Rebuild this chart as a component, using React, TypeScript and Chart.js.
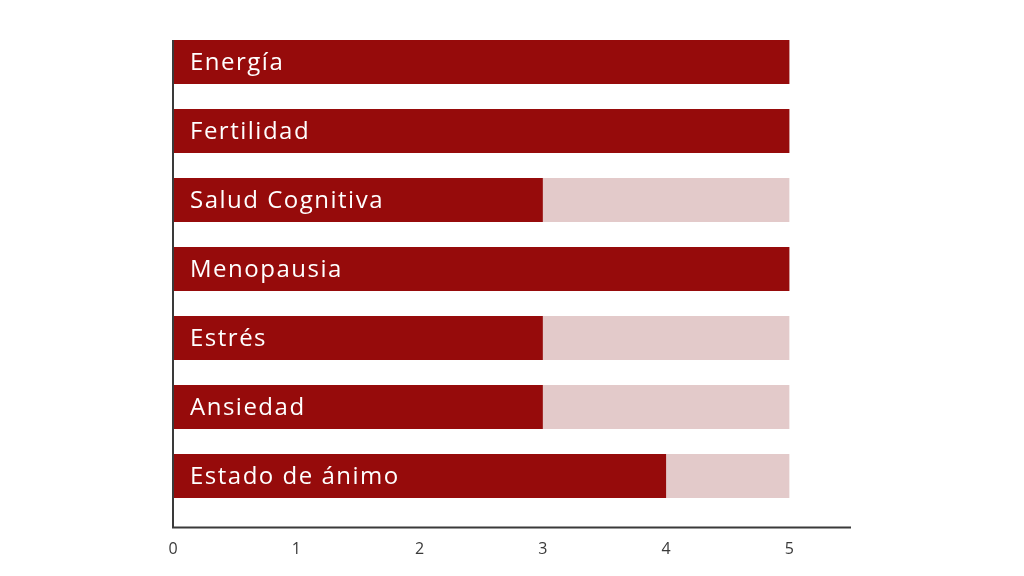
import { Chart, registerables } from 'chart.js'
import type { Plugin } from 'chart.js'
import { useEffect, useRef } from 'react'

Chart.register(...registerables)

const categories = [
  'Energía',
  'Fertilidad',
  'Salud Cognitiva',
  'Menopausia',
  'Estrés',
  'Ansiedad',
  'Estado de ánimo',
]
const scores = [5, 5, 3, 5, 3, 3, 4]
const maxScores = [5, 5, 5, 5, 5, 5, 5]
const tickValues = [0, 1, 2, 3, 4, 5]

const RED = '#960b0b'
const PINK = '#e3caca'
const INK = '#3a3a3a'

// white labels inside the bars plus the two axis lines (they run past the plot area)
const barLabels: Plugin<'bar'> = {
  id: 'barLabels',
  afterDatasetsDraw(chart) {
    const { ctx, chartArea } = chart
    const x = chart.scales.x
    const meta = chart.getDatasetMeta(0)
    const x0 = x.getPixelForValue(0)
    const axisY = chartArea.bottom + 17

    ctx.save()
    ctx.fillStyle = '#ffffff'
    ctx.font = '24px "Open Sans", sans-serif'
    ctx.textBaseline = 'middle'
    ctx.textAlign = 'left'
    ;(ctx as any).letterSpacing = '1.5px'
    meta.data.forEach((bar, i) => {
      ctx.fillText(categories[i], x0 + 17, bar.y + 1)
    })

    const first = meta.data[0] as any
    const top = first.y - first.height / 2
    ctx.strokeStyle = INK
    ctx.lineWidth = 2
    ctx.beginPath()
    ctx.moveTo(x0, top)
    ctx.lineTo(x0, axisY)
    ctx.lineTo(chartArea.right, axisY)
    ctx.stroke()
    ctx.restore()
  },
}

export default function App() {
  const canvasRef = useRef<HTMLCanvasElement>(null)

  useEffect(() => {
    document.body.style.margin = '0'
    if (!canvasRef.current) return
    const chart = new Chart(canvasRef.current, {
      type: 'bar',
      data: {
        labels: categories,
        datasets: [
          {
            label: 'Puntuación',
            data: scores,
            backgroundColor: RED,
            grouped: false,
            barPercentage: 0.64,
            categoryPercentage: 1,
          },
          {
            label: 'Máximo',
            data: maxScores,
            backgroundColor: PINK,
            grouped: false,
            barPercentage: 0.64,
            categoryPercentage: 1,
          },
        ],
      },
      options: {
        indexAxis: 'y',
        animation: false,
        responsive: false,
        layout: { padding: { left: 173, right: 173, top: 27.5, bottom: 0 } },
        plugins: { legend: { display: false }, tooltip: { enabled: false } },
        scales: {
          y: { display: false },
          x: {
            min: 0,
            max: 5.5,
            afterBuildTicks: (scale) => {
              scale.ticks = tickValues.map((value) => ({ value }))
            },
            afterFit: (scale) => {
              scale.height = 65.5
            },
            grid: { display: false },
            border: { display: false },
            ticks: {
              color: INK,
              font: { family: 'Open Sans', size: 16 },
              padding: 21,
              maxRotation: 0,
            },
          },
        },
      },
      plugins: [barLabels],
    })
    return () => chart.destroy()
  }, [])

  return (
    <div style={{ width: 1024, height: 576, background: '#ffffff' }}>
      <canvas ref={canvasRef} width={1024} height={576} style={{ display: 'block' }} />
    </div>
  )
}
